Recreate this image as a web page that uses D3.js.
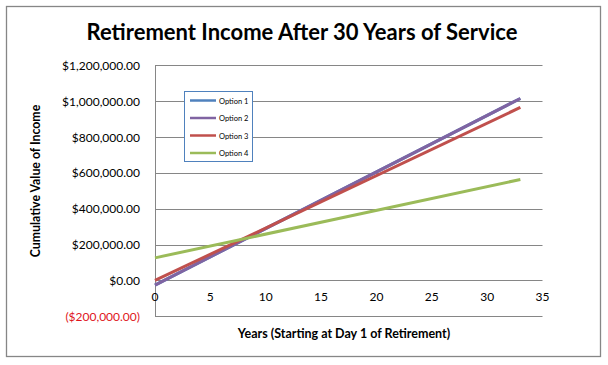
<!DOCTYPE html>
<html><head><meta charset="utf-8">
<script src="https://cdn.jsdelivr.net/npm/d3@7"></script>
<style>body{margin:0;background:#fff}svg{display:block}</style>
</head><body>
<script>
const years = [0, 33];
const option1 = [-26000, 1015000];
const option2 = [-26000, 1015000];
const option3 = [0, 965000];
const option4 = [126000, 563000];
const seriesNames = ["Option 1", "Option 2", "Option 3", "Option 4"];
const colors = ["#4F81BD", "#8064A2", "#C0504D", "#9BBB59"];
const yTicks = [-200000, 0, 200000, 400000, 600000, 800000, 1000000, 1200000];
const xTicks = [0, 5, 10, 15, 20, 25, 30, 35];
const title = "Retirement Income After 30 Years of Service";
const yTitle = "Cumulative Value of Income";
const xTitle = "Years (Starting at Day 1 of Retirement)";

const W = 608, H = 365;
const svg = d3.select("body").append("svg").attr("width", W).attr("height", H);
const font = "Lato, 'Open Sans', sans-serif";

svg.append("rect").attr("x", 6.5).attr("y", 6.5).attr("width", 594).attr("height", 350)
  .attr("fill", "#fff").attr("stroke", "#868686").attr("stroke-width", 1.3);

const x = d3.scaleLinear().domain([0, 35]).range([155, 542.5]);
const y = d3.scaleLinear().domain([-200000, 1200000]).range([316.3, 65.3]);

// gridlines
svg.append("g").selectAll("line").data(yTicks).join("line")
  .attr("x1", x(0)).attr("x2", x(35))
  .attr("y1", d => Math.round(y(d)) + 0.5).attr("y2", d => Math.round(y(d)) + 0.5)
  .attr("stroke", "#868686").attr("stroke-width", 1);
svg.append("line").attr("x1", 155.5).attr("x2", 155.5).attr("y1", y(1200000)).attr("y2", y(-200000))
  .attr("stroke", "#868686");

// y tick labels
const fmt = d => {
  const s = "$" + d3.format(",.2f")(Math.abs(d));
  return d < 0 ? "(" + s + ")" : s;
};
svg.append("g").selectAll("text").data(yTicks).join("text")
  .attr("x", 140).attr("y", d => y(d) + 4.5).attr("text-anchor", "end")
  .attr("font-family", font).attr("font-size", 12)
  .attr("fill", d => d < 0 ? "#E0151C" : "#000").text(fmt);

// x tick labels
svg.append("g").selectAll("text").data(xTicks).join("text")
  .attr("x", d => x(d)).attr("y", y(0) + 21).attr("text-anchor", "middle")
  .attr("font-family", font).attr("font-size", 12).text(d => d);

// lines
const allSeries = [option1, option2, option3, option4];
const line = d3.line().x((d, i) => x(years[i])).y(d => y(d));
allSeries.forEach((s, i) => {
  svg.append("path").datum(s).attr("d", line).attr("fill", "none")
    .attr("stroke", colors[i]).attr("stroke-width", 3);
});

// titles
svg.append("text").attr("x", 302).attr("y", 40).attr("text-anchor", "middle")
  .attr("font-family", font).attr("font-weight", "bold").attr("font-size", 22).text(title);
svg.append("text").attr("transform", "translate(40,181) rotate(-90)").attr("text-anchor", "middle")
  .attr("font-family", font).attr("font-weight", "bold").attr("font-size", 12.3).text(yTitle);
svg.append("text").attr("x", 344).attr("y", 338).attr("text-anchor", "middle")
  .attr("font-family", font).attr("font-weight", "bold").attr("font-size", 12.5).text(xTitle);

// legend
const lg = svg.append("g");
lg.append("rect").attr("x", 184.5).attr("y", 91.5).attr("width", 68).attr("height", 70)
  .attr("fill", "#fff").attr("stroke", "#4F81BD").attr("stroke-width", 1);
seriesNames.forEach((n, i) => {
  const yy = 100.5 + i * 17.5;
  lg.append("line").attr("x1", 190).attr("x2", 216).attr("y1", yy).attr("y2", yy)
    .attr("stroke", colors[i]).attr("stroke-width", 2.5);
  lg.append("text").attr("x", 219).attr("y", yy + 3).attr("font-family", font)
    .attr("font-size", 7.5).text(n);
});
</script>
</body></html>
